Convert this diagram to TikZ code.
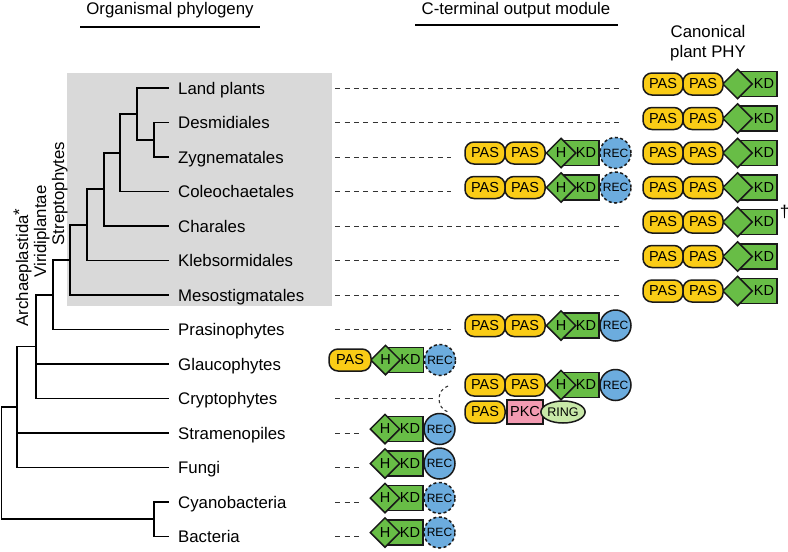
\documentclass[tikz,border=0pt]{standalone}
\usepackage{fontspec}
\setmainfont{Liberation Sans}
\usetikzlibrary{shapes.geometric,positioning}

\definecolor{pasY}{RGB}{250,204,22}
\definecolor{kdG}{RGB}{104,189,70}
\definecolor{recB}{RGB}{108,172,222}
\definecolor{pkcP}{RGB}{243,155,178}
\definecolor{ringG}{RGB}{200,232,168}

\tikzset{
  tree/.style={line width=1.7pt, line cap=rect},
  lbl/.style={anchor=west, inner xsep=10pt, inner ysep=0pt, text height=12.2pt, text depth=0pt, font=\fontsize{16.8}{20}\selectfont},
  ttl/.style={font=\fontsize{16.8}{20}\selectfont, align=center},
  clade/.style={rotate=90, inner sep=0pt, text height=12.2pt, text depth=0pt, font=\fontsize{16.8}{20}\selectfont},
  dsh/.style={draw=black!80, line width=0.9pt, dash pattern=on 5pt off 4.3pt},
  dom/.style={draw=black!90, line width=1.5pt, inner sep=0pt, font=\fontsize{14.5}{14.5}\selectfont},
  pas/.style={dom, fill=pasY, rounded corners=9pt, minimum width=40pt, minimum height=22pt},
  kd/.style={dom, fill=kdG, minimum height=25pt, text width=#1, align=right, inner xsep=3pt},
  kd/.default=34pt,
  hdom/.style={dom, fill=kdG, diamond, minimum size=30pt},
  rec/.style={dom, fill=recB, circle, minimum size=31pt, font=\fontsize{12}{12}\selectfont},
  recd/.style={rec, dash pattern=on 3pt off 2.5pt},
  pkc/.style={dom, fill=pkcP, minimum width=36pt, minimum height=24pt},
  ring/.style={dom, fill=ringG, ellipse, minimum width=40pt, minimum height=22pt, font=\fontsize{12.5}{12.5}\selectfont},
}

\begin{document}
\begin{tikzpicture}[x=1pt, y=-1pt]
  \useasboundingbox (0,0) rectangle (788,552);

  % titles
  \node[ttl] (OP) at (170,10) {Organismal phylogeny};
  \draw[line width=1.2pt] (80,27) -- (260,27);
  \node[ttl] (CT) at (516,10) {C-terminal output module};
  \draw[line width=1.2pt] (415,25) -- (618,25);
  \node[ttl] (CP) at (708,43) {Canonical\\plant PHY};

  % streptophyte box
  \node[fill=gray!30, minimum width=265pt, minimum height=233pt, inner sep=0pt, anchor=north west] (strepto) at (67,73) {};

  % taxa
  \node[lbl] (LP) at (168,88) {Land plants};
  \node[lbl] (DES) at (168,122.5) {Desmidiales};
  \node[lbl] (ZYG) at (168,157) {Zygnematales};
  \node[lbl] (COL) at (168,191.5) {Coleochaetales};
  \node[lbl] (CHA) at (168,226) {Charales};
  \node[lbl] (KLE) at (168,260.5) {Klebsormidales};
  \node[lbl] (MES) at (168,295) {Mesostigmatales};
  \node[lbl] (PRA) at (168,329.5) {Prasinophytes};
  \node[lbl] (GLA) at (168,364) {Glaucophytes};
  \node[lbl] (CRY) at (168,398.5) {Cryptophytes};
  \node[lbl] (STR) at (168,433) {Stramenopiles};
  \node[lbl] (FUN) at (168,467.5) {Fungi};
  \node[lbl] (CYA) at (168,502) {Cyanobacteria};
  \node[lbl] (BAC) at (168,536.5) {Bacteria};

  % clades
  \node[clade] (ARC) at (22,267.5) {Archaeplastida\raisebox{3pt}{*}};
  \node[clade] (VIR) at (40,231.5) {Viridiplantae};
  \node[clade] (STP) at (58,193.5) {Streptophytes};

  % tree
  \coordinate (a1) at (137,113.9);
  \coordinate (a2) at (154,139.75);
  \coordinate (a3) at (120,152.7);
  \coordinate (a4) at (104,189.3);
  \coordinate (a5) at (87,224.9);
  \coordinate (a6) at (70,260);
  \coordinate (a7) at (53,294.7);
  \coordinate (a8) at (36,346.6);
  \coordinate (a9) at (17,407);
  \coordinate (a10) at (1.5,463);
  \coordinate (a11) at (154,519.25);
  \draw[tree] (a1) |- (LP.west) (a1) |- (a2)
    (a2) |- (DES.west) (a2) |- (ZYG.west)
    (a3) |- (a1) (a3) |- (COL.west)
    (a4) |- (a3) (a4) |- (CHA.west)
    (a5) |- (a4) (a5) |- (KLE.west)
    (a6) |- (a5) (a6) |- (MES.west)
    (a7) |- (a6) (a7) |- (PRA.west)
    (a8) |- (a7) (a8) |- (GLA.west) (a8) |- (CRY.west)
    (a9) |- (a8) (a9) |- (STR.west) (a9) |- (FUN.west)
    (a10) |- (a9) (a10) |- (a11)
    (a11) |- (CYA.west) (a11) |- (BAC.west);

  % canonical plant PHY
  \foreach \n/\y in {C0/84, C1/118.5, C2/153, C3/187.5, C4/222, C5/256.5, C6/291} {
    \node[kd] (\n k) at (757,\y) {KD};
    \node[hdom] (\n h) at (737.5,\y) {};
    \node[pas] (\n a) at (663,\y) {PAS};
    \node[pas] (\n b) at (703,\y) {PAS};
  }
  \node[font=\fontsize{17}{17}\selectfont, inner sep=0pt] (DAG) at (784.5,212) {\textdagger};

  % H-KD-REC modules
  \foreach \n/\y/\x/\s in {Z/153/561/recd, O/187.5/561/recd, P/325.5/561/rec, Y/385/561/rec,
      G/360/385.5/recd, S/429/385/rec, F/463.5/385/rec, Q/498/385/recd, B/532.5/385/recd} {
    \node[kd=32pt] (\n k) at (\x+19,\y) {KD};
    \node[hdom] (\n h) at (\x,\y) {H};
    \node[\s] (\n r) at (\x+54.5,\y) {REC};
  }
  \node[pas] (Za) at (485,153) {PAS};
  \node[pas] (Zb) at (525,153) {PAS};
  \node[pas] (Oa) at (485,187.5) {PAS};
  \node[pas] (Ob) at (525,187.5) {PAS};
  \node[pas] (Pa) at (485,325.5) {PAS};
  \node[pas] (Pb) at (525,325.5) {PAS};
  \node[pas] (Ya) at (485,385) {PAS};
  \node[pas] (Yb) at (525,385) {PAS};
  \node[pas, minimum width=42pt] (Ga) at (350,360) {PAS};
  \node[pas] (Xa) at (485,412) {PAS};
  \node[pkc] (Xp) at (525,412) {PKC};
  \node[ring] (Xr) at (563,412) {RING};

  % dashed links
  \draw[dsh] ([xshift=3pt]LP.west -| strepto.east) -- ([xshift=-21pt]LP.west -| C0a.west);
  \draw[dsh] ([xshift=3pt]DES.west -| strepto.east) -- ([xshift=-21pt]DES.west -| C1a.west);
  \draw[dsh] ([xshift=3pt]ZYG.west -| strepto.east) -- ([xshift=-13pt]ZYG.west -| Za.west);
  \draw[dsh] ([xshift=3pt]COL.west -| strepto.east) -- ([xshift=-13pt]COL.west -| Oa.west);
  \draw[dsh] ([xshift=3pt]CHA.west -| strepto.east) -- ([xshift=-21pt]CHA.west -| C4a.west);
  \draw[dsh] ([xshift=3pt]KLE.west -| strepto.east) -- ([xshift=-21pt]KLE.west -| C5a.west);
  \draw[dsh] ([xshift=3pt]MES.west -| strepto.east) -- ([xshift=-21pt]MES.west -| C6a.west);
  \draw[dsh] ([xshift=3pt]PRA.west -| strepto.east) -- ([xshift=-13pt]PRA.west -| Pa.west);
  \draw[dsh] ([xshift=3pt]CRY.west -| strepto.east) -- ([xshift=-28pt]CRY.west -| Ya.west);
  \draw[dsh, line width=1.1pt, dash pattern=on 3pt off 3pt] (448,386) .. controls (436,390) and (436,408) .. (448,412);
  \draw[dsh] ([xshift=3pt]STR.west -| strepto.east) -- ([xshift=-7pt]STR.west -| Sh.west);
  \draw[dsh] ([xshift=3pt]FUN.west -| strepto.east) -- ([xshift=-7pt]FUN.west -| Fh.west);
  \draw[dsh] ([xshift=3pt]CYA.west -| strepto.east) -- ([xshift=-7pt]CYA.west -| Qh.west);
  \draw[dsh] ([xshift=3pt]BAC.west -| strepto.east) -- ([xshift=-7pt]BAC.west -| Bh.west);
\end{tikzpicture}
\end{document}
